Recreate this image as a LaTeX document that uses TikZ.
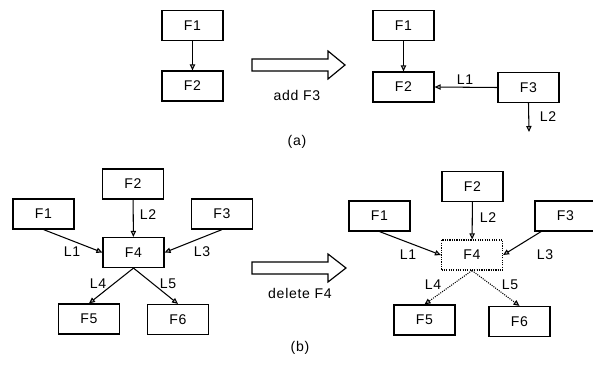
\documentclass[tikz,border=0pt]{standalone}
\usepackage{fontspec}
\setmainfont{Liberation Sans}[LetterSpace=5]
\usetikzlibrary{arrows.meta}

\begin{document}
\begin{tikzpicture}[x=0.3mm,y=-0.3mm,
every node/.style={font=\fontsize{12}{14}\selectfont},
fbox/.style={draw,line width=1pt,minimum width=18.3mm,minimum height=9mm,inner sep=0pt},
gone/.style={fbox,densely dotted},
link/.style={line width=0.9pt,-{Triangle[length=1.8mm,width=1.6mm,fill=gray!50]}},
lost/.style={link,densely dotted},
bigarrow/.style={draw,line width=1pt}]
\useasboundingbox (0,0) rectangle (593,370);
% (a) before
\node[fbox] (fa1) at (192.5,25.5) {F1};
\node[fbox] (fa2) at (192.5,86) {F2};
\draw[link] (fa1) -- (fa2);
% (a) after
\node[fbox] (ga1) at (403.5,25.5) {F1};
\node[fbox] (ga2) at (403.5,87) {F2};
\node[fbox] (ga3) at (528.5,87.5) {F3};
\coordinate (ga3out) at (529,132);
\draw[link] (ga1) -- (ga2);
\draw[link] (ga3.west) -- (ga2.east);
\draw[link] (ga3.south) -- (ga3out);
\node (la1) at (465,80) {L1};
\node (la2) at (548,117) {L2};
% add
\draw[bigarrow] (252,59) -- (328,59) -- (328,51) -- (345,65) -- (328,79) -- (328,71) -- (252,71) -- cycle;
\node (adda) at (297,95) {add F3};
\node (capa) at (297,142) {(a)};
% (b) before
\node[fbox] (fb2) at (133,184) {F2};
\node[fbox] (fb1) at (43.5,214) {F1};
\node[fbox] (fb3) at (222,214) {F3};
\node[fbox] (fb4) at (133.5,252.5) {F4};
\node[fbox] (fb5) at (89,319) {F5};
\node[fbox] (fb6) at (178,319.5) {F6};
\draw[link] (fb1.south) -- (fb4.west);
\draw[link] (fb2) -- (fb4);
\draw[link] (fb3.south) -- (fb4.east);
\draw[link] (fb4.south) -- (fb5.north);
\draw[link] (fb4.south) -- (fb6.north);
\node (lb1) at (72,252) {L1};
\node (lb2) at (148,215) {L2};
\node (lb3) at (202,252) {L3};
\node (lb4) at (98,284) {L4};
\node (lb5) at (168,284) {L5};
% delete
\draw[bigarrow] (252,262) -- (328,262) -- (328,254) -- (346,268) -- (328,282) -- (328,274) -- (252,274) -- cycle;
\node (delb) at (300,293) {delete F4};
\node (capb) at (300,348) {(b)};
% (b) after
\node[fbox] (gb2) at (472.5,186.5) {F2};
\node[fbox] (gb1) at (379.5,216) {F1};
\node[fbox] (gb3) at (565.5,216) {F3};
\node[gone] (gb4) at (472,255) {F4};
\node[fbox] (gb5) at (424.5,320) {F5};
\node[fbox] (gb6) at (519.5,321.5) {F6};
\draw[link] (gb1.south) -- (gb4.west);
\draw[link] (gb2) -- (gb4);
\draw[link] ([xshift=2mm]gb3.south west) -- (gb4.east);
\draw[lost] (gb4.south) -- (gb5.north);
\draw[lost] (gb4.south) -- (gb6.north);
\node (mb1) at (408,255) {L1};
\node (mb2) at (488,218) {L2};
\node (mb3) at (545,255) {L3};
\node (mb4) at (433,285) {L4};
\node (mb5) at (510,285) {L5};
\end{tikzpicture}
\end{document}
